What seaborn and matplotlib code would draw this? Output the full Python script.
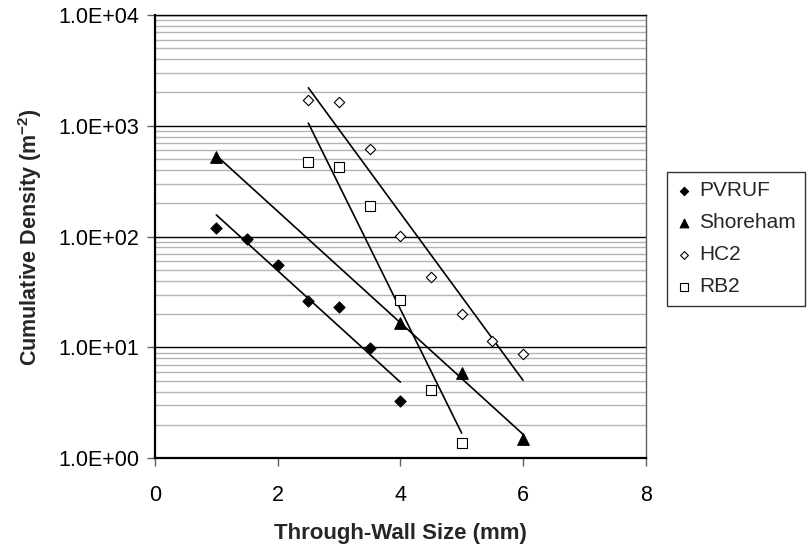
import numpy as np
import pandas as pd
import matplotlib
matplotlib.use("Agg")
import matplotlib.pyplot as plt
from matplotlib.ticker import FuncFormatter, LogLocator, NullFormatter
import seaborn as sns

# Cumulative flaw density versus through-wall size for four data sets
pvruf_x = [1.0, 1.5, 2.0, 2.5, 3.0, 3.5, 4.0]
pvruf_y = [120.0, 95.0, 56.0, 26.0, 23.0, 9.8, 3.3]

shoreham_x = [1.0, 4.0, 5.0, 6.0]
shoreham_y = [527.0, 16.7, 5.9, 1.5]

hc2_x = [2.5, 3.0, 3.5, 4.0, 4.5, 5.0, 5.5, 6.0]
hc2_y = [1714.0, 1633.0, 623.0, 102.0, 43.5, 20.0, 11.5, 8.7]

rb2_x = [2.5, 3.0, 3.5, 4.0, 4.5, 5.0]
rb2_y = [472.0, 426.0, 188.0, 26.7, 4.1, 1.37]

series_names = ["PVRUF", "Shoreham", "HC2", "RB2"]
series_x = [pvruf_x, shoreham_x, hc2_x, rb2_x]
series_y = [pvruf_y, shoreham_y, hc2_y, rb2_y]

x_ticks = [0, 2, 4, 6, 8]

styles = {
    "PVRUF":    dict(marker="D", face="black", size=32),
    "Shoreham": dict(marker="^", face="black", size=70),
    "HC2":      dict(marker="D", face="white", size=28),
    "RB2":      dict(marker="s", face="white", size=54),
}

df = pd.concat(
    [pd.DataFrame({"series": n, "size_mm": x, "density": y})
     for n, x, y in zip(series_names, series_x, series_y)],
    ignore_index=True,
)

sns.set_style("white")
plt.rcParams["font.family"] = ["Liberation Sans", "DejaVu Sans"]
plt.rcParams["mathtext.fontset"] = "custom"
plt.rcParams["mathtext.rm"] = "Liberation Sans"
plt.rcParams["mathtext.bf"] = "Liberation Sans:bold"

fig = plt.figure(figsize=(8.07, 5.52), dpi=100)
ax = fig.add_axes([155 / 807, 1 - 458.3 / 552, 490.7 / 807, 443.3 / 552])
ax.set_yscale("log")

# exponential trend lines (straight on the log axis) over each series' range
for name in series_names:
    sub = df[df["series"] == name]
    slope, icpt = np.polyfit(sub["size_mm"], np.log10(sub["density"]), 1)
    xs = np.array([sub["size_mm"].min(), sub["size_mm"].max()])
    trend = pd.DataFrame({"size_mm": xs, "density": 10 ** (icpt + slope * xs)})
    sns.lineplot(data=trend, x="size_mm", y="density", ax=ax, color="black",
                 linewidth=1.2, zorder=3, legend=False)

for name in series_names:
    st = styles[name]
    sns.scatterplot(data=df[df["series"] == name], x="size_mm", y="density",
                    ax=ax, marker=st["marker"], s=st["size"], color=st["face"],
                    edgecolor="black", linewidth=0.8, zorder=4, label=name)

ax.set_xlim(0, 8)
ax.set_ylim(1, 1e4)
ax.set_xticks(x_ticks)
ax.set_xticklabels([str(t) for t in x_ticks])
ax.yaxis.set_major_locator(LogLocator(base=10, numticks=10))
ax.yaxis.set_minor_locator(LogLocator(base=10, subs=np.arange(2, 10), numticks=50))
ax.yaxis.set_major_formatter(FuncFormatter(lambda v, p: f"{v:.1E}"))
ax.yaxis.set_minor_formatter(NullFormatter())

ax.grid(False)
ax.yaxis.grid(True, which="major", color="black", linewidth=1.0, zorder=1)
ax.yaxis.grid(True, which="minor", color="#b4b4b4", linewidth=1.0, zorder=1)
ax.set_axisbelow(True)

for side in ["left", "bottom"]:
    ax.spines[side].set_color("black")
    ax.spines[side].set_linewidth(1.6)
ax.spines["top"].set_color("black")
ax.spines["top"].set_linewidth(1.0)
ax.spines["right"].set_color("#606060")
ax.spines["right"].set_linewidth(1.0)

ax.tick_params(axis="both", which="major", direction="out", length=5.5,
               width=1.0, color="#606060", labelsize=15.5, labelcolor="black",
               left=True, bottom=True)
ax.tick_params(axis="x", pad=14)
ax.tick_params(axis="y", pad=6)
ax.tick_params(axis="y", which="minor", left=False)

ax.set_xlabel("Through-Wall Size (mm)", fontsize=16, fontweight="bold", labelpad=12)
ax.set_ylabel(r"Cumulative Density (m$^{\mathbf{-2}}$)", fontsize=15.5,
              fontweight="bold", labelpad=10)

leg = ax.legend(loc="upper left", bbox_to_anchor=(667 / 807, 1 - 172 / 552),
                bbox_transform=fig.transFigure, borderaxespad=0, frameon=True,
                fancybox=False, edgecolor="black", fontsize=15,
                handlelength=0.7, handletextpad=0.4, labelspacing=0.62,
                borderpad=0.45, markerscale=0.75)
leg.get_frame().set_linewidth(1.0)

fig.savefig("out.png", dpi=100)
